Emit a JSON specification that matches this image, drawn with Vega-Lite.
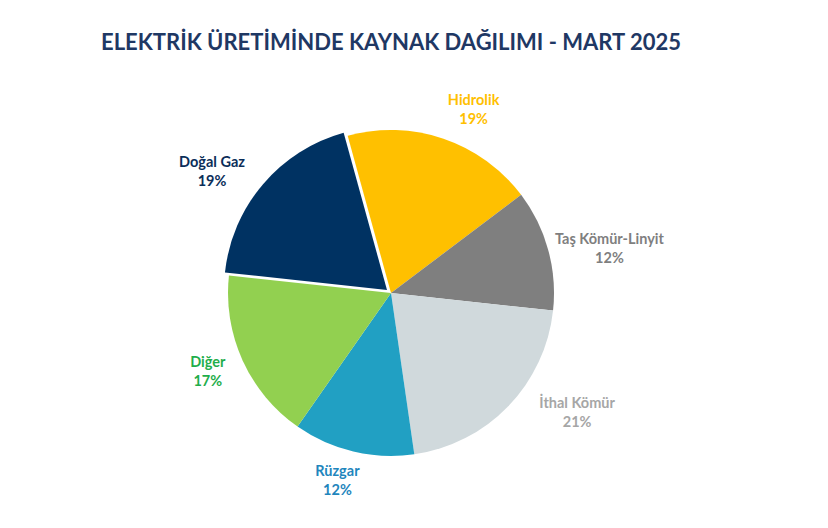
{
  "$schema": "https://vega.github.io/schema/vega-lite/v6.json",
  "width": 782,
  "height": 470,
  "autosize": {"type": "none"},
  "padding": {"left": 0, "top": 58, "right": 0, "bottom": 0},
  "background": "white",
  "title": {
    "text": "ELEKTRİK ÜRETİMİNDE KAYNAK DAĞILIMI - MART 2025",
    "font": "Lato",
    "fontSize": 22,
    "fontWeight": "bold",
    "color": "#1f3864",
    "anchor": "middle",
    "baseline": "alphabetic",
    "offset": -14
  },
  "data": {
    "values": [
      {"sira": 1, "kaynak": "Hidrolik", "pay": 19, "etiket": "Hidrolik\n19%"},
      {"sira": 2, "kaynak": "Taş Kömür-Linyit", "pay": 12, "etiket": "Taş Kömür-Linyit\n12%"},
      {"sira": 3, "kaynak": "İthal Kömür", "pay": 21, "etiket": "İthal Kömür\n21%"},
      {"sira": 4, "kaynak": "Rüzgar", "pay": 12, "etiket": "Rüzgar\n12%"},
      {"sira": 5, "kaynak": "Diğer", "pay": 17, "etiket": "Diğer\n17%"},
      {"sira": 6, "kaynak": "Doğal Gaz", "pay": 19, "etiket": "Doğal Gaz\n19%"}
    ]
  },
  "transform": [
    {"stack": "pay", "groupby": [], "sort": [{"field": "sira"}], "as": ["t0", "t1"]},
    {"calculate": "(datum.t0 + datum.t1) / 2", "as": "tmid"}
  ],
  "config": {
    "view": {"stroke": null},
    "text": {"font": "Lato", "fontSize": 14.5, "fontWeight": "bold", "lineBreak": "\n", "lineHeight": 19, "align": "center", "baseline": "middle"}
  },
  "encoding": {
    "color": {
      "field": "kaynak",
      "type": "nominal",
      "legend": null,
      "scale": {
        "domain": ["Hidrolik", "Taş Kömür-Linyit", "İthal Kömür", "Rüzgar", "Diğer", "Doğal Gaz"],
        "range": ["#ffc000", "#7f7f7f", "#d0d9dc", "#21a0c3", "#92d050", "#003262"]
      }
    }
  },
  "layer": [
    {
      "transform": [{"filter": "datum.kaynak != 'Doğal Gaz'"}],
      "mark": {"type": "arc", "radius": 163},
      "encoding": {
        "theta": {"field": "t0", "type": "quantitative", "stack": null, "scale": {"domain": [0, 100], "range": [-0.269, 6.014]}},
        "theta2": {"field": "t1"}
      }
    },
    {
      "transform": [{"filter": "datum.kaynak == 'Doğal Gaz'"}],
      "mark": {"type": "arc", "radius": 163, "xOffset": -4, "yOffset": -3},
      "encoding": {
        "theta": {"field": "t0", "type": "quantitative", "stack": null},
        "theta2": {"field": "t1"}
      }
    },
    {
      "transform": [{"filter": "datum.kaynak == 'Hidrolik'"}],
      "mark": {"type": "text", "radius": 210, "dx": 15, "dy": 7},
      "encoding": {"theta": {"field": "tmid", "type": "quantitative", "stack": null}, "text": {"field": "etiket"}, "color": {"value": "#ffc000"}}
    },
    {
      "transform": [{"filter": "datum.kaynak == 'Taş Kömür-Linyit'"}],
      "mark": {"type": "text", "radius": 210, "dx": 16, "dy": 3},
      "encoding": {"theta": {"field": "tmid", "type": "quantitative", "stack": null}, "text": {"field": "etiket"}, "color": {"value": "#7f7f7f"}}
    },
    {
      "transform": [{"filter": "datum.kaynak == 'İthal Kömür'"}],
      "mark": {"type": "text", "radius": 210, "dx": 35, "dy": -35},
      "encoding": {"theta": {"field": "tmid", "type": "quantitative", "stack": null}, "text": {"field": "etiket"}, "color": {"value": "#a6a6a6"}}
    },
    {
      "transform": [{"filter": "datum.kaynak == 'Rüzgar'"}],
      "mark": {"type": "text", "radius": 210, "dx": -5, "dy": -25},
      "encoding": {"theta": {"field": "tmid", "type": "quantitative", "stack": null}, "text": {"field": "etiket"}, "color": {"value": "#1f86bd"}}
    },
    {
      "transform": [{"filter": "datum.kaynak == 'Diğer'"}],
      "mark": {"type": "text", "radius": 210, "dx": 8, "dy": -17},
      "encoding": {"theta": {"field": "tmid", "type": "quantitative", "stack": null}, "text": {"field": "etiket"}, "color": {"value": "#1fae4b"}}
    },
    {
      "transform": [{"filter": "datum.kaynak == 'Doğal Gaz'"}],
      "mark": {"type": "text", "radius": 210, "dx": -19, "dy": 6},
      "encoding": {"theta": {"field": "tmid", "type": "quantitative", "stack": null}, "text": {"field": "etiket"}, "color": {"value": "#0b2e59"}}
    }
  ]
}
